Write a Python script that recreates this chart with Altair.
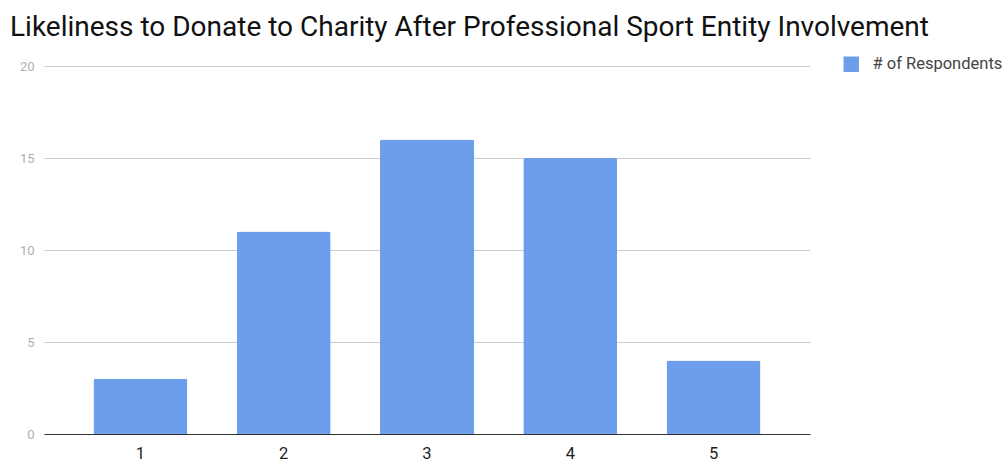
import altair as alt
import pandas as pd

# Survey responses: likeliness rating (1-5) and number of respondents
ratings = ["1", "2", "3", "4", "5"]
respondents = [3, 11, 16, 15, 4]
series_name = "# of Respondents"

df = pd.DataFrame({"rating": ratings, "count": respondents, "series": series_name})

bars = alt.Chart(df).mark_bar(cornerRadiusTopLeft=2, cornerRadiusTopRight=2).encode(
    x=alt.X(
        "rating:N",
        sort=ratings,
        scale=alt.Scale(paddingInner=0.344, paddingOuter=0.345),
        axis=alt.Axis(
            title=None, labelAngle=0, labelColor="#222222", labelFontSize=16.5,
            labelPadding=11, ticks=False, domainColor="#333333", domainWidth=1.2,
            grid=False,
        ),
    ),
    y=alt.Y(
        "count:Q",
        scale=alt.Scale(domain=[0, 20], nice=False),
        axis=alt.Axis(
            title=None, values=[0, 5, 10, 15, 20], labelColor="#b0b0b0", labelFontSize=13,
            labelPadding=10, ticks=False, domain=False, gridColor="#cccccc",
        ),
    ),
    fill=alt.Fill(
        "series:N",
        scale=alt.Scale(domain=[series_name], range=["#6d9eeb"]),
        legend=alt.Legend(
            title=None, orient="none", legendX=799, legendY=-10, symbolType="square",
            symbolSize=240, symbolStrokeWidth=0, labelFontSize=16.5, labelColor="#444444",
            labelOffset=13,
        ),
    ),
)

chart = bars.properties(
    width=766,
    height=368,
    title=alt.TitleParams(
        "Likeliness to Donate to Charity After Professional Sport Entity Involvement",
        anchor="start", frame="group", dx=-34, offset=14, fontSize=28,
        fontWeight="normal", color="#111111", font="Roboto",
    ),
    autosize=alt.AutoSizeParams(type="none"),
    padding={"left": 44, "top": 66, "right": 195, "bottom": 28},
).configure(font="Roboto").configure_view(stroke=None)

chart.save("out.html", embed_options={"renderer": "svg", "actions": False})
